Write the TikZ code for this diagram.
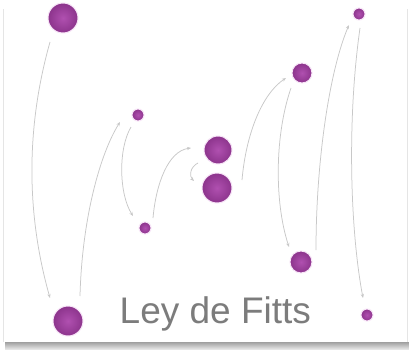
\documentclass[tikz,border=0pt]{standalone}
\usepackage{fontspec}
\setmainfont{Liberation Sans}
\usetikzlibrary{calc,arrows.meta}
\definecolor{dotin}{HTML}{B050B0}
\definecolor{dotout}{HTML}{8C348C}
\definecolor{halo}{HTML}{F7E4F7}
\definecolor{lineg}{HTML}{C8C8C8}
\definecolor{textg}{HTML}{7C7C7C}
\tikzset{
  dot/.style={circle, inner sep=0pt, minimum size=#1, inner color=dotin, outer color=dotout, draw=halo, line width=1pt},
  conn/.style={draw=lineg, line width=0.75pt, -{Stealth[length=4pt,width=3.2pt]}},
}
\begin{document}
\begin{tikzpicture}[x=1pt,y=1pt]
\useasboundingbox (0,0) rectangle (409,349);
\fill[white] (0,0) rectangle (409,349);
% card shadow and edges
\shade[top color=gray!75, bottom color=gray!20] (5,0) rectangle (409,7);
\draw[gray!20, line width=0.8pt] (3.5,7) -- (3.5,340);
\draw[gray!20, line width=0.8pt] (407.5,7) -- (407.5,340);
% dots
\node[dot=30pt] (d1) at (63,331) {};
\node[dot=12pt] (d2) at (138,234) {};
\node[dot=28pt] (d3) at (218,199) {};
\node[dot=30pt] (d4) at (217,161) {};
\node[dot=12pt] (d5) at (145,121) {};
\node[dot=20pt] (d6) at (302,276) {};
\node[dot=12pt] (d7) at (359,335) {};
\node[dot=22pt] (d8) at (301,87) {};
\node[dot=12pt] (d9) at (367,34) {};
\node[dot=30pt] (d10) at (68,28) {};
% connectors
\draw[conn] ($(d1)+(-13,-24)$) .. controls (26,222) and (26,136) .. ($(d10)+(-18,23)$);
\draw[conn] ($(d10)+(12,25)$) .. controls (82,130) and (100,195) .. ($(d2)+(-18,-7)$);
\draw[conn] ($(d2)+(-7,-12)$) .. controls (118,200) and (119,155) .. ($(d5)+(-12,12)$);
\draw[conn] ($(d5)+(8,10)$) .. controls (156,165) and (168,198) .. ($(d3)+(-27,2)$);
\draw[conn] ($(d3)+(-20,-13)$) .. controls (190,182) and (189,173) .. ($(d4)+(-23,7)$);
\draw[conn] ($(d4)+(25,8)$) .. controls (246,215) and (262,255) .. ($(d6)+(-16,-5)$);
\draw[conn] ($(d6)+(-11,-15)$) .. controls (275,215) and (274,148) .. ($(d8)+(-12,15)$);
\draw[conn] ($(d8)+(15,12)$) .. controls (316,190) and (330,280) .. ($(d7)+(-10,-11)$);
\draw[conn] ($(d7)+(1,-14)$) .. controls (347,230) and (350,120) .. ($(d9)+(-4,17)$);
% title
\node[anchor=base west, inner sep=0pt, text=textg, font=\fontsize{37}{41}\selectfont] (title) at (119.5,26) {Ley de Fitts};
\end{tikzpicture}
\end{document}
